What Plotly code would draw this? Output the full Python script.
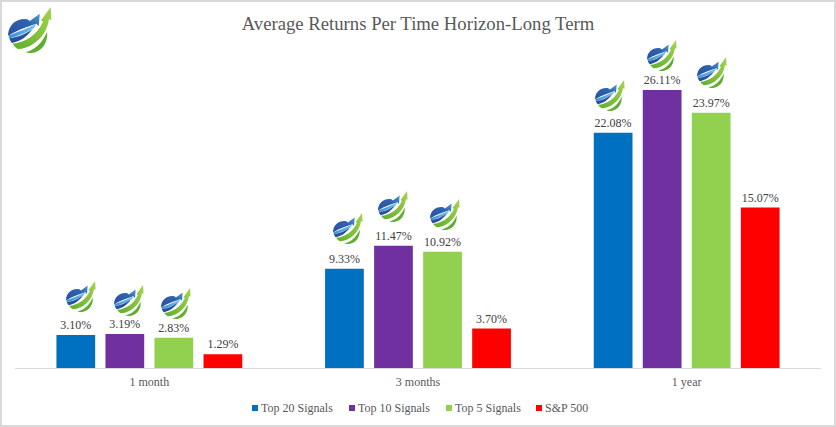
import base64
import plotly.graph_objects as go

categories = ["1 month", "3 months", "1 year"]
series_names = ["Top 20 Signals", "Top 10 Signals", "Top 5 Signals", "S&P 500"]
top20 = [3.10, 9.33, 22.08]
top10 = [3.19, 11.47, 26.11]
top5 = [2.83, 10.92, 23.97]
sp500 = [1.29, 3.70, 15.07]
colors = ["#0070C0", "#7030A0", "#92D050", "#FF0000"]
series = [top20, top10, top5, sp500]

W, H = 836, 427
ML, MR, MT, MB = 15, 15, 48, 59

LOGO = """<svg xmlns='http://www.w3.org/2000/svg' viewBox='0 0 133 138'>
<defs>
<linearGradient id='b' x1='0' y1='1' x2='1' y2='0'><stop offset='0' stop-color='#2a4fa0'/><stop offset='0.6' stop-color='#2f62ae'/><stop offset='1' stop-color='#4a9ad8'/></linearGradient>
<linearGradient id='l' x1='0' y1='0' x2='1' y2='0'><stop offset='0' stop-color='#2f8fd0'/><stop offset='1' stop-color='#7cc6ee'/></linearGradient>
<linearGradient id='g' x1='0' y1='1' x2='1' y2='0'><stop offset='0' stop-color='#5fae2e'/><stop offset='1' stop-color='#a4d44a'/></linearGradient>
</defs>
<path fill='url(#b)' d='M0,84 C2,55 22,36 50,36 C56,36 62,38 66,42 L96,20 L93,58 L86,50 C60,58 30,68 2,86 Z'/>
<path fill='url(#l)' d='M2,86 C30,74 60,64 86,50 L78,64 C55,78 30,88 4,94 C3,92 2,88 2,86 Z'/>
<path fill='#2a4fa0' d='M4,94 C30,90 52,82 74,66 C58,90 36,104 12,108 C8,104 6,100 4,94 Z'/>
<path fill='url(#g)' d='M14,110 C50,107 86,86 106,44 L100,40 L129,0 L131,40 L124,36 C120,66 104,92 80,108 C64,120 44,126 30,126 C23,122 18,116 14,110 Z'/>
<path fill='#5fae2e' d='M50,136 C80,130 104,108 118,74 C122,104 104,134 72,138 C64,138 56,138 50,136 Z'/>
</svg>"""
LOGO_SRC = "data:image/svg+xml;base64," + base64.b64encode(LOGO.encode()).decode()

# logo boxes in page pixels: left, top, width, height
logo_boxes = [
    (8, 7, 44, 46),
    (66, 281, 30, 31), (114, 285, 30, 31), (161, 288, 30, 31),
    (333, 213, 30, 31), (378, 191, 30, 31), (430, 199, 30, 31),
    (595, 80, 30, 31), (647, 40, 30, 31), (697, 57, 30, 31),
]
legend_marker_left = [252, 349, 446, 536]
LEGEND_Y = 408

plot_w = W - ML - MR
plot_h = H - MT - MB


def px(x):
    return (x - ML) / plot_w


def py(y):
    return 1 - (y - MT) / plot_h


images = [
    dict(source=LOGO_SRC, xref="paper", yref="paper", x=px(l), y=py(t),
         sizex=w / plot_w, sizey=h / plot_h, xanchor="left", yanchor="top",
         sizing="stretch", layer="above")
    for l, t, w, h in logo_boxes
]

shapes = [dict(type="rect", xref="paper", yref="paper",
               x0=px(1), x1=px(W - 1), y0=py(H - 1), y1=py(1),
               line=dict(color="#D9D9D9", width=2), fillcolor="rgba(0,0,0,0)")]
annotations = []
for name, c, left in zip(series_names, colors, legend_marker_left):
    shapes.append(dict(type="rect", xref="paper", yref="paper",
                       x0=px(left), x1=px(left + 6), y0=py(LEGEND_Y + 3), y1=py(LEGEND_Y - 3),
                       line_width=0, fillcolor=c))
    annotations.append(dict(text=name, xref="paper", yref="paper", x=px(left + 9), y=py(LEGEND_Y),
                            xanchor="left", yanchor="middle", showarrow=False,
                            borderpad=0, borderwidth=0,
                            font=dict(family="Liberation Serif", size=12, color="#595959")))

fig = go.Figure()
for name, vals, c in zip(series_names, series, colors):
    fig.add_bar(
        name=name, x=categories, y=vals, marker=dict(color=c, line_width=0),
        text=[f"{v:.2f}%" for v in vals], textposition="outside",
        textfont=dict(family="Liberation Serif", size=12, color="#404040"),
        cliponaxis=False,
    )

fig.update_layout(
    width=W, height=H, margin=dict(l=ML, r=MR, t=MT, b=MB, pad=0),
    paper_bgcolor="white", plot_bgcolor="white", showlegend=False,
    barmode="group", bargap=0.27, bargroupgap=0.21,
    font=dict(family="Liberation Serif", color="#595959", size=12),
    title=dict(text="Average Returns Per Time Horizon-Long Term",
               x=0.5, xanchor="center", y=1 - 23 / H, yanchor="middle",
               font=dict(family="Liberation Serif", size=18.7, color="#595959")),
    xaxis=dict(type="category", showline=True, linecolor="#D9D9D9", linewidth=1,
               ticks="outside", ticklen=3, tickcolor="rgba(0,0,0,0)", showgrid=False,
               tickfont=dict(family="Liberation Serif", size=12, color="#595959")),
    yaxis=dict(range=[0, 30.05], visible=False, showgrid=False, zeroline=False),
    images=images, shapes=shapes, annotations=annotations,
)

fig.write_html("out.html", config={"displayModeBar": False},
               post_script="document.body.style.margin='0';")
